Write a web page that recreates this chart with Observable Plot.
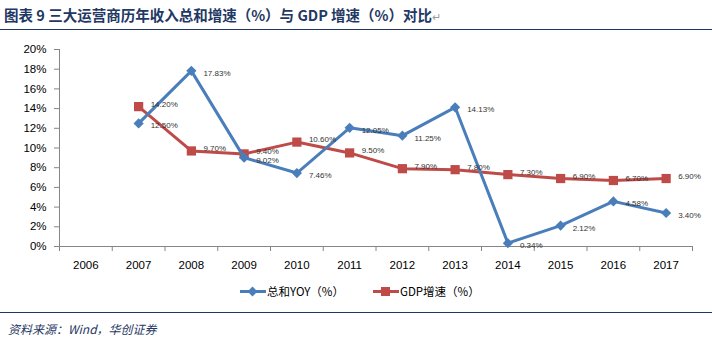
<!DOCTYPE html>
<html><head><meta charset="utf-8">
<script src="https://cdn.jsdelivr.net/npm/d3@7"></script>
<script src="https://cdn.jsdelivr.net/npm/@observablehq/plot@0.6"></script>
<style>
body{margin:0;background:#fff;width:712px;height:344px;overflow:hidden;font-family:"Liberation Sans","Noto Sans CJK SC",sans-serif;}
#title{position:absolute;left:4px;top:4px;font:bold 14.5px "Noto Sans CJK SC",sans-serif;color:#1F3864;white-space:nowrap;}
#title .ret{color:#999;font-weight:normal;font-size:11px;}
#tline{position:absolute;left:0;top:29px;width:712px;height:0;border-top:1.5px solid #1F3864;}
#chart{position:absolute;left:0;top:32px;}
#legend{position:absolute;left:0;top:282px;width:712px;height:18px;font:11.5px "Noto Sans CJK SC",sans-serif;color:#000;}
#legend .it{position:absolute;top:0;display:flex;align-items:center;height:18px;}
#bline{position:absolute;left:0;top:312px;width:712px;height:0;border-top:1px solid #1F3864;}
#caption{position:absolute;left:8px;top:320px;font:italic 12px "Noto Sans CJK SC",sans-serif;color:#1F3864;}
</style></head><body>
<div id="title">图表 9 三大运营商历年收入总和增速（%）与 GDP 增速（%）对比<span class="ret">↵</span></div>
<div id="tline"></div>
<div id="chart"></div>
<div id="legend"></div>
<div id="bline"></div>
<div id="caption">资料来源：Wind，华创证券</div>
<script>
const years = [2006,2007,2008,2009,2010,2011,2012,2013,2014,2015,2016,2017];
const dataYears = [2007,2008,2009,2010,2011,2012,2013,2014,2015,2016,2017];
const totalYoY = [12.50,17.83,9.02,7.46,12.05,11.25,14.13,0.34,2.12,4.58,3.40];
const gdpGrowth = [14.20,9.70,9.40,10.60,9.50,7.90,7.80,7.30,6.90,6.70,6.90];
const yTicks = [0,2,4,6,8,10,12,14,16,18,20];
const seriesNames = ["总和YOY（%）","GDP增速（%）"];
const colors = ["#4A7EBB","#BE4B48"];

const tot = dataYears.map((y,i)=>({year:y, v:totalYoY[i]/100}));
const gdp = dataYears.map((y,i)=>({year:y, v:gdpGrowth[i]/100}));
const bounds = years.map(y=>y-0.5).concat([years[years.length-1]+0.5]);
const fmt = d => d3.format(".2f")(d*100)+"%";
const axisColor = "#868686";

const chart = Plot.plot({
  width: 712, height: 250,
  marginLeft: 59, marginRight: 20, marginTop: 17, marginBottom: 36,
  style:{fontFamily:"Liberation Sans, sans-serif", fontSize:"11px", color:"#000", background:"#fff"},
  x:{type:"linear", domain:[2005.5,2017.5]},
  y:{domain:[0,0.2]},
  marks:[
    Plot.axisY({ticks: yTicks.map(d=>d/100), tickFormat: d=>Math.round(d*100)+"%", tickSize:5, tickPadding:8, stroke:axisColor, fill:"#000", fontSize:11.5, label:null}),
    Plot.axisX({ticks: years, tickFormat: d=>String(d), tickSize:0, tickPadding:14, fill:"#000", fontSize:11.5, label:null}),
    Plot.axisX({ticks: bounds, tickFormat: ()=>"", tickSize:5, stroke:axisColor, label:null}),
    Plot.ruleX([2005.5], {stroke:axisColor}),
    Plot.ruleY([0], {stroke:axisColor}),
    Plot.line(gdp, {x:"year", y:"v", stroke:colors[1], strokeWidth:3}),
    Plot.dot(gdp, {x:"year", y:"v", symbol:"square", r:5.2, fill:colors[1], stroke:"none"}),
    Plot.line(tot, {x:"year", y:"v", stroke:colors[0], strokeWidth:3}),
    Plot.dot(tot, {x:"year", y:"v", symbol:"diamond2", r:4.6, fill:colors[0], stroke:"none"}),
    Plot.text(gdp, {x:"year", y:"v", text:d=>fmt(d.v), dx:12, dy:-2.5, textAnchor:"start", fontSize:8, fill:"#333"}),
    Plot.text(tot, {x:"year", y:"v", text:d=>fmt(d.v), dx:12, dy:2.5, textAnchor:"start", fontSize:8, fill:"#333"})
  ]
});
document.getElementById("chart").appendChild(chart);

// legend
const leg = document.getElementById("legend");
const items = [
  {left:240, name:seriesNames[0], color:colors[0], sym:"diamond"},
  {left:373, name:seriesNames[1], color:colors[1], sym:"square"}
];
for (const it of items){
  const div = document.createElement("div");
  div.className="it"; div.style.left = it.left+"px";
  const shape = it.sym==="diamond"
    ? `<rect x="9" y="5" width="7" height="7" transform="rotate(45 12.5 8.5)" fill="${it.color}"/>`
    : `<rect x="8" y="4" width="9" height="9" fill="${it.color}"/>`;
  div.innerHTML = `<svg width="26" height="17"><line x1="0" x2="26" y1="8.5" y2="8.5" stroke="${it.color}" stroke-width="3"/>${shape}</svg><span style="margin-left:1px">${it.name}</span>`;
  leg.appendChild(div);
}
</script>
</body></html>
